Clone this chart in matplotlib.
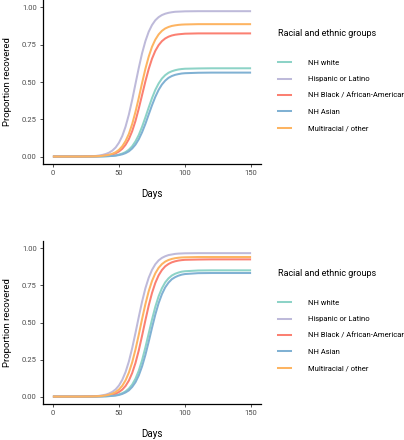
import matplotlib
matplotlib.use("Agg")
import matplotlib.pyplot as plt
from matplotlib.lines import Line2D

plt.rcParams['font.family'] = ['Roboto', 'DejaVu Sans']

# ---- data ----
DAYS = [0, 10, 20,
        30, 32.5, 35, 37.5, 40, 42.5, 45, 47.5, 50, 52.5, 55, 57.5, 60, 62.5,
        65, 67.5, 70, 72.5, 75, 77.5, 80, 82.5, 85, 87.5, 90, 92.5, 95, 97.5, 100,
        110, 120, 130, 140, 150]

GROUPS = ["NH white", "Hispanic or Latino", "NH Black / African-American",
          "NH Asian", "Multiracial / other"]
COLORS = ["#8DD3C7", "#BEBADA", "#FB8072", "#80B1D3", "#FDB462"]

X_TICKS = [0, 50, 100, 150]
Y_TICKS = [0.00, 0.25, 0.50, 0.75, 1.00]
Y_TICK_LABELS = ["0.00", "0.25", "0.50", "0.75", "1.00"]

# top panel
white_1 = [0, 0, 0,
           0.000, 0.001, 0.001, 0.001, 0.002, 0.003, 0.005, 0.008, 0.013, 0.020, 0.030, 0.046,
           0.069, 0.102, 0.145, 0.200, 0.263, 0.329, 0.392, 0.447, 0.490, 0.523, 0.546, 0.562,
           0.572, 0.579, 0.584, 0.587, 0.589,
           0.591, 0.592, 0.592, 0.592, 0.592]
hispanic_1 = [0, 0, 0,
              0.003, 0.004, 0.007, 0.011, 0.017, 0.026, 0.040, 0.061, 0.093, 0.138, 0.201, 0.282,
              0.380, 0.488, 0.595, 0.693, 0.774, 0.837, 0.882, 0.914, 0.935, 0.949, 0.958, 0.964,
              0.968, 0.971, 0.972, 0.973, 0.974,
              0.975, 0.975, 0.975, 0.975, 0.975]
black_1 = [0, 0, 0,
           0.001, 0.001, 0.002, 0.004, 0.006, 0.009, 0.014, 0.022, 0.034, 0.052, 0.079, 0.117,
           0.170, 0.239, 0.322, 0.413, 0.504, 0.587, 0.656, 0.709, 0.747, 0.774, 0.792, 0.804,
           0.812, 0.817, 0.820, 0.822, 0.824,
           0.826, 0.826, 0.826, 0.826, 0.826]
asian_1 = [0, 0, 0,
           0.000, 0.000, 0.001, 0.001, 0.002, 0.003, 0.004, 0.006, 0.010, 0.015, 0.023, 0.035,
           0.054, 0.080, 0.116, 0.163, 0.219, 0.282, 0.344, 0.400, 0.447, 0.483, 0.509, 0.528,
           0.540, 0.548, 0.553, 0.557, 0.559,
           0.562, 0.563, 0.563, 0.563, 0.563]
multi_1 = [0, 0, 0,
           0.001, 0.002, 0.003, 0.005, 0.008, 0.012, 0.019, 0.029, 0.045, 0.069, 0.104, 0.152,
           0.218, 0.300, 0.394, 0.494, 0.588, 0.670, 0.736, 0.784, 0.819, 0.843, 0.859, 0.869,
           0.876, 0.880, 0.883, 0.885, 0.886,
           0.888, 0.888, 0.888, 0.888, 0.888]

# bottom panel
white_2 = [0, 0, 0,
           0.000, 0.001, 0.001, 0.002, 0.002, 0.004, 0.006, 0.009, 0.015, 0.023, 0.035, 0.054,
           0.081, 0.121, 0.175, 0.246, 0.332, 0.426, 0.520, 0.606, 0.677, 0.731, 0.771, 0.798,
           0.817, 0.829, 0.837, 0.843, 0.846,
           0.851, 0.852, 0.852, 0.852, 0.852]
hispanic_2 = [0, 0, 0,
              0.002, 0.003, 0.005, 0.009, 0.013, 0.021, 0.032, 0.049, 0.075, 0.113, 0.166, 0.237,
              0.327, 0.430, 0.538, 0.641, 0.731, 0.802, 0.855, 0.893, 0.919, 0.936, 0.947, 0.955,
              0.959, 0.963, 0.965, 0.966, 0.967,
              0.968, 0.968, 0.968, 0.968, 0.968]
black_2 = [0, 0, 0,
           0.001, 0.001, 0.002, 0.003, 0.005, 0.008, 0.013, 0.020, 0.031, 0.047, 0.072, 0.108,
           0.159, 0.227, 0.312, 0.411, 0.515, 0.614, 0.699, 0.767, 0.818, 0.854, 0.879, 0.895,
           0.906, 0.913, 0.918, 0.921, 0.923,
           0.925, 0.926, 0.926, 0.926, 0.926]
asian_2 = [0, 0, 0,
           0.000, 0.000, 0.001, 0.001, 0.002, 0.003, 0.005, 0.007, 0.011, 0.018, 0.028, 0.042,
           0.065, 0.097, 0.143, 0.204, 0.281, 0.370, 0.464, 0.553, 0.630, 0.691, 0.737, 0.769,
           0.792, 0.806, 0.816, 0.823, 0.827,
           0.833, 0.834, 0.834, 0.834, 0.834]
multi_2 = [0, 0, 0,
           0.001, 0.002, 0.003, 0.005, 0.008, 0.013, 0.020, 0.031, 0.048, 0.073, 0.110, 0.162,
           0.231, 0.318, 0.418, 0.524, 0.624, 0.711, 0.780, 0.832, 0.869, 0.894, 0.911, 0.922,
           0.929, 0.934, 0.937, 0.939, 0.940,
           0.942, 0.942, 0.942, 0.942, 0.942]

PANELS = [
    [white_1, hispanic_1, black_1, asian_1, multi_1],
    [white_2, hispanic_2, black_2, asian_2, multi_2],
]

W, H = 404, 440
fig = plt.figure(figsize=(W / 100, H / 100), dpi=100)

# axes boxes in pixels: (left, top, right, bottom)
boxes = [(43, 0, 261, 164), (43, 241, 261, 404)]
legend_tops = [29, 269]

for series, (l, t, r, b), ltop in zip(PANELS, boxes, legend_tops):
    ax = fig.add_axes([l / W, 1 - b / H, (r - l) / W, (b - t) / H])
    for vals, col, name in zip(series, COLORS, GROUPS):
        ax.plot(DAYS, vals, color=col, lw=1.45, label=name, solid_capstyle='butt')
    ax.set_xlim(-7.5, 157.5)
    ax.set_ylim(-0.05, 1.05)
    ax.set_xticks(X_TICKS)
    ax.set_yticks(Y_TICKS)
    ax.set_yticklabels(Y_TICK_LABELS)
    for s in ['top', 'right']:
        ax.spines[s].set_visible(False)
    for s in ['left', 'bottom']:
        ax.spines[s].set_linewidth(0.9)
        ax.spines[s].set_color('black')
    ax.tick_params(length=2.5, width=0.6, color='#333333', labelcolor='#4D4D4D',
                   labelsize=5.5, pad=2)
    ax.set_xlabel("Days", fontsize=7, labelpad=9)
    ax.set_ylabel("Proportion recovered", fontsize=6.8, labelpad=7)

    handles = [Line2D([], [], color=c, lw=1.45) for c in COLORS]
    leg = ax.legend(handles, GROUPS, title="Racial and ethnic groups",
                    loc='upper left', bbox_to_anchor=(278 / W, 1 - ltop / H),
                    bbox_transform=fig.transFigure, frameon=False,
                    fontsize=5.5, title_fontsize=6.5, alignment='left',
                    borderpad=0, borderaxespad=0, handlelength=1.7,
                    handletextpad=2.2, labelspacing=1.32)
    leg._legend_box.sep = 15.5

fig.savefig("out.png", dpi=100)
